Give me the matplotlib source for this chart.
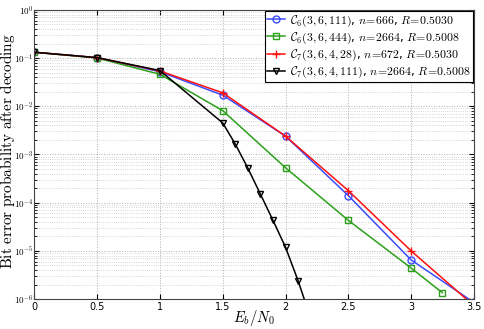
import numpy as np
import matplotlib.pyplot as plt
from matplotlib.ticker import LogLocator, NullFormatter, FuncFormatter

plt.rcParams["mathtext.fontset"] = "cm"

# Eb/N0 grids and bit error probabilities
x_c6_111 = [0, 0.5, 1.0, 1.5, 2.0, 2.5, 3.0, 3.5]
y_c6_111 = [0.132, 0.102, 0.052, 0.017, 2.4e-3, 1.4e-4, 6.5e-6, 8.5e-7]

x_c6_444 = [0, 0.5, 1.0, 1.5, 2.0, 2.5, 3.0, 3.25]
y_c6_444 = [0.132, 0.100, 0.046, 8.1e-3, 5.3e-4, 4.3e-5, 4.4e-6, 1.35e-6]

x_c7_28 = [0, 0.5, 1.0, 1.5, 2.0, 2.5, 3.0, 3.5]
y_c7_28 = [0.132, 0.102, 0.054, 0.019, 2.4e-3, 1.78e-4, 1.0e-5, 7.3e-7]

x_c7_111 = [0, 0.5, 1.0, 1.5, 1.6, 1.7, 1.8, 1.9, 2.0, 2.1, 2.2]
y_c7_111 = [0.132, 0.102, 0.055, 4.5e-3, 1.64e-3, 5.2e-4, 1.5e-4,
            4.3e-5, 1.19e-5, 2.4e-6, 4e-7]

labels = [
    r"$\mathcal{C}_6(3,6,111)$, $n\!=\!666$, $R\!=\!0.5030$",
    r"$\mathcal{C}_6(3,6,444)$, $n\!=\!2664$, $R\!=\!0.5008$",
    r"$\mathcal{C}_7(3,6,4,28)$, $n\!=\!672$, $R\!=\!0.5030$",
    r"$\mathcal{C}_7(3,6,4,111)$, $n\!=\!2664$, $R\!=\!0.5008$",
]

fig = plt.figure(figsize=(4.85, 3.29), dpi=100)
ax = fig.add_axes([0.071, 0.091, 0.906, 0.879])

ax.plot(x_c6_111, y_c6_111, "-o", color="#3b4cff", lw=1.1, ms=5,
        mfc="none", mew=1.0, label=labels[0])
ax.plot(x_c6_444, y_c6_444, "-s", color="#2ca01c", lw=1.1, ms=4,
        mfc="none", mew=1.0, label=labels[1])
ax.plot(x_c7_28, y_c7_28, "-+", color="#ff1010", lw=1.1, ms=6,
        mew=1.0, label=labels[2])
ax.plot(x_c7_111, y_c7_111, "-v", color="black", lw=1.1, ms=5,
        mfc="none", mew=1.0, label=labels[3])

ax.set_yscale("log")
ax.set_xlim(0, 3.5)
ax.set_ylim(1e-6, 1)
ax.set_xticks(np.arange(0, 3.51, 0.5))
ax.set_xticklabels(["0", "0.5", "1", "1.5", "2", "2.5", "3", "3.5"])
ax.yaxis.set_major_locator(LogLocator(base=10, numticks=10))
ax.yaxis.set_major_formatter(
    FuncFormatter(lambda v, p: r"$\mathsf{10^{%d}}$" % round(np.log10(v))))
ax.yaxis.set_minor_locator(LogLocator(base=10, subs=np.arange(2, 10), numticks=10))
ax.yaxis.set_minor_formatter(NullFormatter())

ax.grid(True, which="major", ls=":", color="#b0b0b0", lw=0.7)
ax.grid(True, which="minor", axis="y", ls=":", color="#c8c8c8", lw=0.6)
ax.tick_params(which="both", direction="in", top=True, right=True)
ax.tick_params(axis="x", labelsize=7, pad=2)
ax.tick_params(axis="y", labelsize=6.5, pad=1)
ax.tick_params(which="minor", length=2)
ax.tick_params(which="major", length=3.5)
for s in ax.spines.values():
    s.set_color("#444444")
    s.set_linewidth(0.8)

# axis labels placed in figure coordinates so nothing gets clipped
fig.text(0.5 * (0.071 + 0.977), 1 - 318 / 329, r"$E_b/N_0$", fontsize=10.5,
         ha="center", va="center")
fig.text(8 / 485, 0.091 + 0.879 / 2 + 0.01,
         r"$\mathrm{Bit\ error\ probability\ after\ decoding}$",
         fontsize=11, rotation=90, ha="center", va="center")

leg = ax.legend(loc="upper right", fontsize=8.5, fancybox=False,
                framealpha=1, edgecolor="black", borderpad=0.2,
                handlelength=1.5, handletextpad=0.4, labelspacing=0.15,
                borderaxespad=0.1)
leg.get_frame().set_linewidth(0.8)

fig.savefig("out.png", dpi=100)
